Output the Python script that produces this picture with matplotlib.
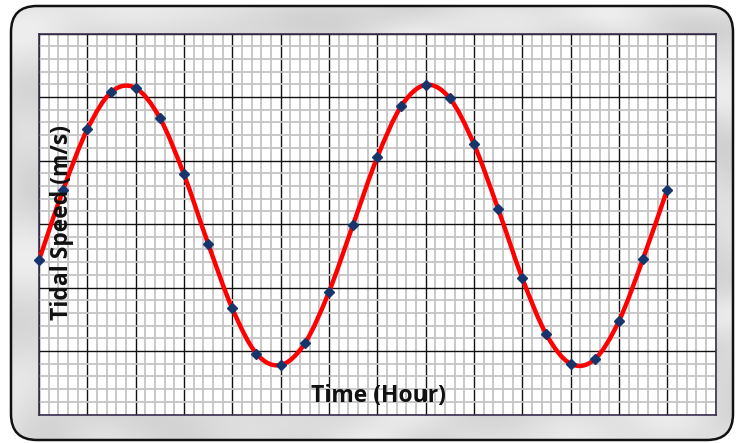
import numpy as np
import matplotlib
matplotlib.use("Agg")
import matplotlib.pyplot as plt
from matplotlib.patches import FancyBboxPatch, PathPatch
from matplotlib.path import Path
from matplotlib.ticker import MultipleLocator

# data (hour, tidal speed m/s)
hours = list(range(27))
speed = [-0.57, 0.54, 1.49, 2.08, 2.14, 1.67, 0.78, -0.31, -1.33, -2.04,
         -2.22, -1.88, -1.07, -0.01, 1.05, 1.86, 2.19, 1.98, 1.26, 0.24,
         -0.85, -1.74, -2.20, -2.13, -1.53, -0.55, 0.54]

x_range = (0, 28)
y_range = (-3, 3)


def smooth_path(xs, ys):
    # excel-like smoothed line: catmull-rom converted to bezier segments
    pts = np.column_stack([xs, ys]).astype(float)
    n = len(pts)
    verts = [pts[0]]
    codes = [Path.MOVETO]
    for i in range(n - 1):
        p0 = pts[i - 1] if i > 0 else pts[i]
        p1 = pts[i]
        p2 = pts[i + 1]
        p3 = pts[i + 2] if i + 2 < n else pts[i + 1]
        c1 = p1 + (p2 - p0) / 6.0
        c2 = p2 - (p3 - p1) / 6.0
        verts += [c1, c2, p2]
        codes += [Path.CURVE4] * 3
    return Path(verts, codes)


W, H = 737, 443
fig = plt.figure(figsize=(W / 100, H / 100), dpi=100)
fig.patch.set_facecolor('white')

# background card with marble-ish texture
bg = fig.add_axes([0, 0, 1, 1])
bg.set_xlim(0, W)
bg.set_ylim(H, 0)
bg.axis('off')
card = FancyBboxPatch((11, 6), 722, 434,
                      boxstyle="round,pad=0,rounding_size=26",
                      facecolor='#e2e2e2', edgecolor='none', zorder=1)
bg.add_patch(card)
gx, gy = np.meshgrid(np.linspace(0, 1, 370), np.linspace(0, 1, 222))
tex = (np.sin(9 * gx + 4 * np.sin(5 * gy) + 2 * np.sin(13 * gx * gy))
       + 0.6 * np.sin(23 * gy + 3 * np.sin(11 * gx))
       + 0.4 * np.sin(37 * gx - 17 * gy + 2 * np.cos(7 * gy)))
tex = 0.875 + 0.06 * tex / 2.0
im = bg.imshow(tex, cmap='gray', vmin=0, vmax=1, extent=(11, 733, 440, 6),
               aspect='auto', zorder=2, interpolation='bicubic')
im.set_clip_path(card)
border = FancyBboxPatch((11, 6), 722, 434,
                        boxstyle="round,pad=0,rounding_size=26",
                        facecolor='none', edgecolor='#111111', lw=1.8,
                        zorder=3)
bg.add_patch(border)

# graph paper area
ax = fig.add_axes([39 / W, (H - 414.5) / H, 676.5 / W, 381 / H])
ax.set_facecolor('white')
ax.set_xlim(*x_range)
ax.set_ylim(*y_range)
ax.xaxis.set_major_locator(MultipleLocator(2))
ax.xaxis.set_minor_locator(MultipleLocator(0.4))
ax.yaxis.set_major_locator(MultipleLocator(1))
ax.yaxis.set_minor_locator(MultipleLocator(0.2))
ax.grid(which='minor', color='#c4c4c4', lw=1.3, zorder=1)
ax.grid(which='major', color='#111111', lw=1.0, zorder=2)
ax.tick_params(which='both', length=0, labelbottom=False, labelleft=False)
ax.set_axisbelow(True)
for s in ax.spines.values():
    s.set_color('#3a2f4f')
    s.set_linewidth(1.2)

curve = PathPatch(smooth_path(hours, speed), facecolor='none',
                  edgecolor='#ff0000', lw=3.2, zorder=4, capstyle='round')
ax.add_patch(curve)
ax.plot(hours, speed, linestyle='none', marker='D', markersize=5.5,
        markerfacecolor='#17356b', markeredgecolor='#17356b', zorder=5,
        clip_on=False)

fig.text(62 / W, 1 - 223 / H, 'Tidal Speed (m/s)', rotation=90,
         ha='center', va='center', fontsize=16.5, fontweight='bold',
         family=['Open Sans', 'DejaVu Sans'], color='#111111')
fig.text(378 / W, 1 - 396 / H, 'Time (Hour)', ha='center', va='center',
         fontsize=16.5, fontweight='bold', family=['Open Sans', 'DejaVu Sans'],
         color='#111111')

fig.savefig('out.png', dpi=100)
